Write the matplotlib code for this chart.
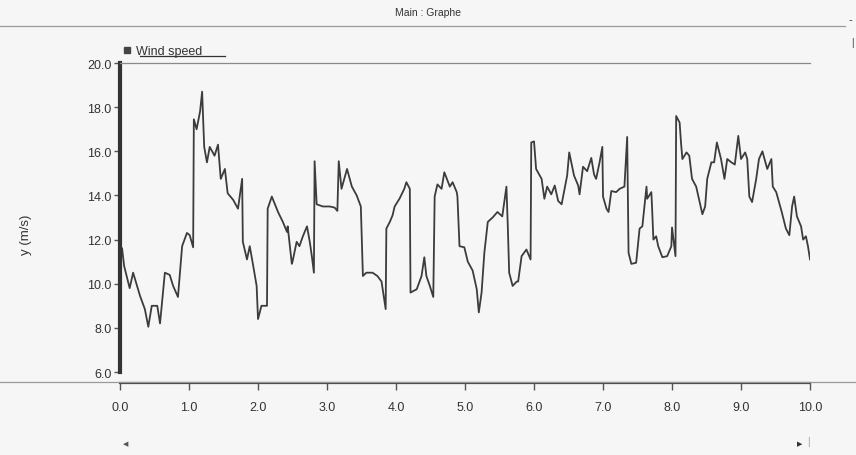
import matplotlib.pyplot as plt
from matplotlib.lines import Line2D

# Wind speed trace (time axis 0..10, m/s)
time_s = [0.03, 0.06, 0.14, 0.19, 0.29, 0.36, 0.41, 0.46, 0.54, 0.58,
          0.65, 0.72, 0.77, 0.84, 0.90, 0.97, 1.01, 1.06, 1.07, 1.11,
          1.16, 1.19, 1.22, 1.26, 1.30, 1.37, 1.42, 1.46, 1.52, 1.56,
          1.64, 1.71, 1.77, 1.78, 1.84, 1.88, 1.92, 1.98, 2.00, 2.05,
          2.13, 2.14, 2.20, 2.29, 2.36, 2.42, 2.43, 2.49, 2.50, 2.56,
          2.60, 2.65, 2.71, 2.75, 2.78, 2.81, 2.82, 2.85, 2.94, 3.04,
          3.11, 3.15, 3.17, 3.21, 3.29, 3.36, 3.43, 3.49, 3.52, 3.57,
          3.66, 3.73, 3.79, 3.85, 3.86, 3.91, 3.95, 3.98, 4.05, 4.12,
          4.15, 4.20, 4.21, 4.30, 4.37, 4.41, 4.44, 4.49, 4.54, 4.56,
          4.60, 4.66, 4.70, 4.78, 4.82, 4.88, 4.89, 4.92, 4.99, 5.04,
          5.11, 5.17, 5.20, 5.24, 5.28, 5.33, 5.40, 5.47, 5.54, 5.60,
          5.62, 5.64, 5.69, 5.75, 5.77, 5.82, 5.89, 5.95, 5.96, 6.00,
          6.03, 6.11, 6.15, 6.19, 6.25, 6.30, 6.35, 6.40, 6.48, 6.51,
          6.58, 6.64, 6.66, 6.71, 6.77, 6.83, 6.87, 6.90, 6.95, 6.99,
          7.00, 7.05, 7.08, 7.12, 7.19, 7.24, 7.31, 7.35, 7.37, 7.41,
          7.48, 7.53, 7.57, 7.63, 7.64, 7.70, 7.71, 7.73, 7.77, 7.80,
          7.86, 7.93, 7.99, 8.00, 8.05, 8.06, 8.11, 8.13, 8.15, 8.21,
          8.25, 8.29, 8.35, 8.39, 8.44, 8.48, 8.51, 8.57, 8.61, 8.65,
          8.71, 8.76, 8.80, 8.86, 8.91, 8.96, 9.00, 9.06, 9.09, 9.12,
          9.16, 9.22, 9.26, 9.31, 9.35, 9.38, 9.44, 9.46, 9.51, 9.55,
          9.59, 9.65, 9.70, 9.74, 9.77, 9.81, 9.87, 9.90, 9.94, 9.97,
          10.0]
wind_speed = [11.6, 10.8, 9.8, 10.5, 9.45, 8.85, 8.05, 9.0, 9.0, 8.2,
              10.5, 10.4, 9.9, 9.4, 11.7, 12.3, 12.2, 11.65, 17.45, 17.0,
              17.8, 18.7, 16.2, 15.5, 16.2, 15.8, 16.3, 14.75, 15.2, 14.1,
              13.8, 13.4, 14.75, 11.9, 11.1, 11.7, 11.0, 9.9, 8.4, 9.0,
              9.0, 13.4, 13.95, 13.25, 12.8, 12.35, 12.6, 10.9, 11.0, 11.9,
              11.7, 12.15, 12.6, 11.9, 11.25, 10.5, 15.55, 13.6, 13.5, 13.5,
              13.45, 13.3, 15.55, 14.3, 15.2, 14.4, 14.0, 13.5, 10.35, 10.5,
              10.5, 10.35, 10.1, 8.85, 12.5, 12.8, 13.1, 13.5, 13.85, 14.3,
              14.6, 14.3, 9.6, 9.75, 10.35, 11.2, 10.35, 9.9, 9.4, 13.95,
              14.5, 14.3, 15.05, 14.4, 14.6, 14.15, 13.95, 11.7, 11.65, 11.0,
              10.6, 9.75, 8.7, 9.6, 11.4, 12.8, 13.0, 13.25, 13.05, 14.4,
              12.6, 10.5, 9.9, 10.1, 10.1, 11.25, 11.55, 11.1, 16.4, 16.45,
              15.2, 14.75, 13.85, 14.4, 14.05, 14.45, 13.75, 13.6, 14.9, 15.95,
              14.9, 14.45, 14.05, 15.3, 15.1, 15.7, 14.95, 14.75, 15.5, 16.2,
              13.95, 13.4, 13.25, 14.2, 14.15, 14.3, 14.4, 16.65, 11.4, 10.9,
              10.95, 12.5, 12.6, 14.4, 13.85, 14.15, 13.5, 12.0, 12.15, 11.7,
              11.2, 11.25, 11.7, 12.55, 11.25, 17.6, 17.3, 16.4, 15.65, 15.95,
              15.8, 14.75, 14.4, 13.85, 13.15, 13.5, 14.75, 15.5, 15.5, 16.4,
              15.65, 14.75, 15.65, 15.5, 15.4, 16.7, 15.65, 15.95, 15.65, 13.95,
              13.7, 14.75, 15.65, 16.0, 15.55, 15.2, 15.65, 14.4, 14.15, 13.7,
              13.25, 12.5, 12.2, 13.5, 13.95, 13.05, 12.6, 12.0, 12.15, 11.7,
              11.1]

x_ticks = [0, 1, 2, 3, 4, 5, 6, 7, 8, 9, 10]
y_ticks = [6, 8, 10, 12, 14, 16, 18, 20]

plt.rcParams['font.family'] = ['Liberation Sans', 'DejaVu Sans']

fig = plt.figure(figsize=(8.56, 4.56), dpi=100, facecolor='#f6f6f6')
ax = fig.add_axes([0.1402, 0.182, 0.8061, 0.6776])
ax.set_facecolor('#f6f6f6')

ax.plot(time_s, wind_speed, color='#3c3c3c', lw=1.3)

ax.set_xlim(0, 10)
ax.set_ylim(6, 20)
ax.set_xticks(x_ticks)
ax.set_xticklabels([f"{v:.1f}" for v in x_ticks])
ax.set_yticks(y_ticks)
ax.set_yticklabels([f"{v:.1f}" for v in y_ticks])

# axes look of the old software
ax.spines['right'].set_visible(False)
ax.spines['top'].set_color('#8a8a8a')
ax.spines['top'].set_linewidth(0.9)
ax.spines['left'].set_color('#333333')
ax.spines['left'].set_linewidth(3)
ax.spines['bottom'].set_position(('outward', 8))
ax.spines['bottom'].set_color('#444444')
ax.spines['bottom'].set_linewidth(1.6)
ax.tick_params(axis='y', length=4, width=1, color='#555555', labelsize=9,
               labelcolor='#333333', pad=2)
ax.tick_params(axis='x', length=5, width=1, color='#555555', labelsize=9,
               labelcolor='#333333', pad=8)

ax.set_ylabel("y (m/s)", fontsize=9.5, color='#333333')
ax.yaxis.set_label_coords(-0.128, 0.447)

# legend with a square marker, underlined label
proxy = Line2D([], [], marker='s', ls='', color='#444444', ms=4)
ax.legend([proxy], ["Wind speed"], loc='lower left', bbox_to_anchor=(-0.006, 0.995),
          frameon=False, handlelength=0.6, handletextpad=0.4, borderpad=0.1,
          fontsize=9, labelcolor='#333333')
fig.add_artist(Line2D([0.1636, 0.263], [0.876, 0.876], color='#333333', lw=0.9))

# window decoration
fig.text(0.5, 0.972, "Main : Graphe", ha='center', va='center', fontsize=7.5, color='#333333')
fig.add_artist(Line2D([0.0, 0.987], [0.941, 0.941], color='#9a9a9a', lw=0.9))
fig.add_artist(Line2D([0.0, 1.0], [0.160, 0.160], color='#9a9a9a', lw=0.9))
fig.text(0.994, 0.955, "-", ha='center', va='center', fontsize=8, color='#333333')
fig.text(0.996, 0.905, "|", ha='center', va='center', fontsize=7, color='#333333')
fig.text(0.147, 0.02, "◀", ha='center', va='bottom', fontsize=5, color='#555555',
         family='DejaVu Sans')
fig.text(0.934, 0.02, "▶", ha='center', va='bottom', fontsize=5, color='#333333',
         family='DejaVu Sans')
fig.text(0.944, 0.02, "|", ha='center', va='bottom', fontsize=7, color='#999999')

fig.savefig("out.png", dpi=100, facecolor=fig.get_facecolor())
